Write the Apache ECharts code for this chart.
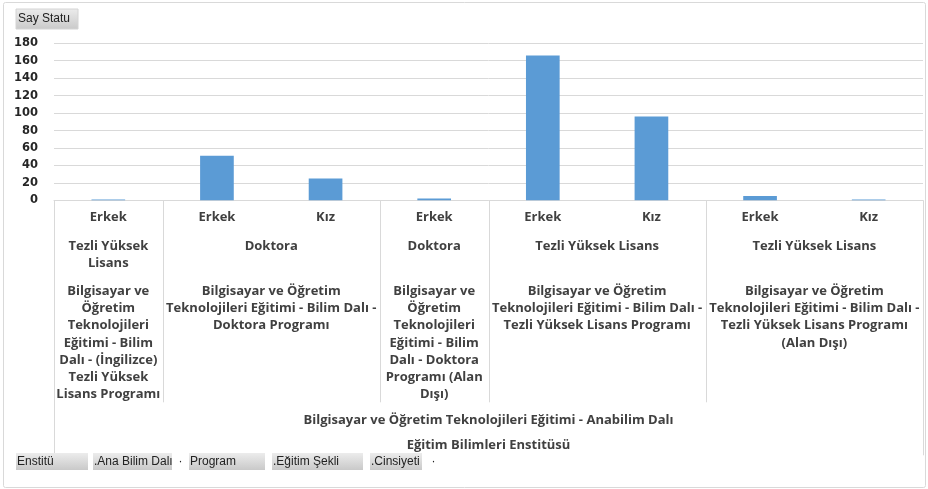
<!DOCTYPE html>
<html>
<head>
    <meta charset="utf-8">
    <title>Say Statu</title>
    <script src="https://cdn.jsdelivr.net/npm/echarts@6/dist/echarts.min.js"></script>
    <style>
        html, body { margin: 0; padding: 0; background: #fff; }
        #chart1 { width: 928px; height: 489px; }
    </style>
</head>
<body>
<div id="chart1"></div>
<script type="text/javascript">
    // cinsiyet (en alt kategori) ve degerler
    var cinsiyet = ['Erkek', 'Erkek', 'Kız', 'Erkek', 'Erkek', 'Kız', 'Erkek', 'Kız'];
    var degerler = [1, 51, 25, 2, 166, 96, 5, 1];

    // ust seviyeler: [etiket, ilk kategori, son kategori]
    var egitimSekli = [
        ['Tezli Yüksek\nLisans', 0, 0],
        ['Doktora', 1, 2],
        ['Doktora', 3, 3],
        ['Tezli Yüksek Lisans', 4, 5],
        ['Tezli Yüksek Lisans', 6, 7]
    ];
    var programlar = [
        ['Bilgisayar ve\nÖğretim\nTeknolojileri\nEğitimi - Bilim\nDalı - (İngilizce)\nTezli Yüksek\nLisans Programı', 0, 0],
        ['Bilgisayar ve Öğretim\nTeknolojileri Eğitimi - Bilim Dalı -\nDoktora Programı', 1, 2],
        ['Bilgisayar ve\nÖğretim\nTeknolojileri\nEğitimi - Bilim\nDalı - Doktora\nProgramı (Alan\nDışı)', 3, 3],
        ['Bilgisayar ve Öğretim\nTeknolojileri Eğitimi - Bilim Dalı -\nTezli Yüksek Lisans Programı', 4, 5],
        ['Bilgisayar ve Öğretim\nTeknolojileri Eğitimi - Bilim Dalı -\nTezli Yüksek Lisans Programı\n(Alan Dışı)', 6, 7]
    ];
    var anaBilimDali = [['Bilgisayar ve Öğretim Teknolojileri Eğitimi - Anabilim Dalı', 0, 7]];
    var enstitu = [['Eğitim Bilimleri Enstitüsü', 0, 7]];

    // alt alan dugmeleri
    var alanlar = ['Enstitü', 'Ana Bilim Dalı', 'Program', 'Eğitim Şekli', 'Cinsiyeti'];

    var yMin = 0, yMax = 180, yAdim = 20;

    var yaziRengi = '#404040';
    var cizgiRengi = '#d9d9d9';
    var etiketFont = 'bold 13px "Open Sans"';

    var myChart1 = echarts.init(document.getElementById('chart1'));

    myChart1.setOption({
        animation: false,
        grid: { left: 54, right: 5, top: 43.3, bottom: 288.7 },
        xAxis: {
            type: 'category',
            data: cinsiyet,
            axisTick: { show: false },
            axisLine: { lineStyle: { color: cizgiRengi, width: 1 } },
            axisLabel: {
                interval: 0,
                margin: 10,
                color: yaziRengi,
                fontFamily: 'Open Sans',
                fontWeight: 'bold',
                fontSize: 13
            }
        },
        yAxis: {
            type: 'value',
            min: yMin,
            max: yMax,
            interval: yAdim,
            axisLine: { show: false },
            axisTick: { show: false },
            splitLine: { lineStyle: { color: cizgiRengi, width: 1 } },
            axisLabel: {
                margin: 16,
                color: '#262626',
                fontFamily: 'DejaVu Sans',
                fontWeight: 'bold',
                fontSize: 11.5
            }
        },
        series: [{
            name: 'Say Statu',
            type: 'bar',
            data: degerler,
            barWidth: '31%',
            itemStyle: { color: '#5b9bd5' }
        }]
    });

    // kategori sinirlarini eksenden hesapla
    var m0 = myChart1.convertToPixel({ xAxisIndex: 0 }, 0);
    var m1 = myChart1.convertToPixel({ xAxisIndex: 0 }, 1);
    var bant = m1 - m0;
    function solKenar(i) { return myChart1.convertToPixel({ xAxisIndex: 0 }, i) - bant / 2; }
    function sagKenar(i) { return myChart1.convertToPixel({ xAxisIndex: 0 }, i) + bant / 2; }
    var eksenY = myChart1.convertToPixel({ yAxisIndex: 0 }, 0);

    var grafik = [];

    // cerceve
    grafik.push({
        type: 'rect', silent: true,
        shape: { x: 3.5, y: 2.5, width: 922, height: 485, r: 2 },
        style: { fill: 'none', stroke: cizgiRengi, lineWidth: 1 }
    });

    function seviye(liste, ustY) {
        liste.forEach(function (g) {
            grafik.push({
                type: 'text', silent: true,
                style: {
                    text: g[0],
                    x: (solKenar(g[1]) + sagKenar(g[2])) / 2,
                    y: ustY,
                    align: 'center',
                    verticalAlign: 'top',
                    font: etiketFont,
                    fill: yaziRengi,
                    lineHeight: 17.3
                }
            });
        });
    }
    seviye(egitimSekli, eksenY + 37);
    seviye(programlar, eksenY + 82);
    seviye(anaBilimDali, eksenY + 211);
    seviye(enstitu, eksenY + 236);

    // grup ayirici cizgiler
    programlar.forEach(function (g, k) {
        if (k === 0) return;
        var x = Math.round(solKenar(g[1])) + 0.5;
        grafik.push({
            type: 'line', silent: true,
            shape: { x1: x, y1: eksenY, x2: x, y2: eksenY + 202 },
            style: { stroke: cizgiRengi, lineWidth: 1 }
        });
    });
    [solKenar(0), sagKenar(cinsiyet.length - 1)].forEach(function (xx) {
        var x = Math.round(xx) + 0.5;
        grafik.push({
            type: 'line', silent: true,
            shape: { x1: x, y1: eksenY, x2: x, y2: eksenY + 255 },
            style: { stroke: cizgiRengi, lineWidth: 1 }
        });
    });

    // deger alani dugmesi
    var griDolgu = new echarts.graphic.LinearGradient(0, 0, 0, 1, [
        { offset: 0, color: '#ececec' }, { offset: 1, color: '#c9c9c9' }
    ]);
    grafik.push({
        type: 'rect', silent: true,
        shape: { x: 16, y: 9, width: 62, height: 20 },
        style: { fill: griDolgu, stroke: '#d4d4d4', lineWidth: 1 }
    });
    grafik.push({
        type: 'text', silent: true,
        style: { text: 'Say Statu', x: 18, y: 19, verticalAlign: 'middle', font: '12px "Liberation Sans"', fill: '#222' }
    });

    // alt alan dugmeleri: [sol, gri genislik, beyaz genislik, nokta]
    var dugmeler = [[16, 72, 5, false], [93, 79, 17, true], [189, 76, 7, false], [272, 91, 7, false], [370, 52, 23, true]];
    dugmeler.forEach(function (d, i) {
        grafik.push({
            type: 'rect', silent: true,
            shape: { x: d[0], y: 453, width: d[1], height: 17 },
            style: { fill: griDolgu }
        });
        grafik.push({
            type: 'text', silent: true,
            style: { text: (i > 0 && i !== 2 ? '.' : '') + alanlar[i], x: d[0] + 1, y: 462, verticalAlign: 'middle', font: '12px "Liberation Sans"', fill: '#222' }
        });
        if (d[3]) {
            grafik.push({
                type: 'text', silent: true,
                style: { text: '·', x: d[0] + d[1] + d[2] / 2 - 2, y: 462, verticalAlign: 'middle', font: '12px "Liberation Sans"', fill: '#222' }
            });
        }
    });

    myChart1.setOption({ graphic: grafik });
</script>
</body>
</html>
